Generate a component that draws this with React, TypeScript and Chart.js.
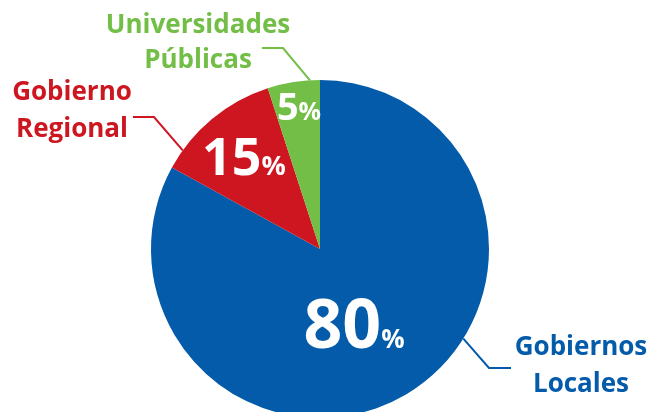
import React, { useEffect, useRef } from "react";
import { Chart, registerables } from "chart.js";

Chart.register(...registerables);

// ---- data ----
const categories = ["Gobiernos Locales", "Gobierno Regional", "Universidades Públicas"];
const shares = [83, 12, 5];
const shareLabels = ["80", "15", "5"];
const nameLines = [
  ["Gobiernos", "Locales"],
  ["Gobierno", "Regional"],
  ["Universidades", "Públicas"],
];
const sliceColors = ["#035BAA", "#CD1620", "#72BE46"];

// ---- annotation layout (relative to pie centre) ----
const calloutLayout = [
  { angle: 122, elbow: [169, 119], end: [191, 119], textX: 261, baselines: [106, 143] },
  { angle: 305.7, elbow: [-166, -132], end: [-187, -132], textX: -248, baselines: [-149, -112] },
  { angle: 356.6, elbow: [-37, -201], end: [-58, -201], textX: -122, baselines: [-216, -181] },
];
const pctLayout = [
  { cx: 34, base: 99, big: 68, small: 26 },
  { cx: -76, base: -74, big: 52, small: 27 },
  { cx: -21, base: -129, big: 38, small: 25 },
];
const FONT = "'Open Sans', sans-serif";

const labelsPlugin = {
  id: "pieLabels",
  afterDatasetsDraw(chart: any) {
    const meta = chart.getDatasetMeta(0);
    const first = meta.data[0];
    if (!first) return;
    const { x, y, outerRadius } = first.getProps(["x", "y", "outerRadius"], true);
    const ctx = chart.ctx;
    ctx.save();
    // percentage labels
    meta.data.forEach((_arc: any, i: number) => {
      const p = pctLayout[i];
      ctx.fillStyle = "#FFFFFF";
      ctx.textBaseline = "alphabetic";
      ctx.textAlign = "left";
      ctx.font = `bold ${p.big}px ${FONT}`;
      const wBig = ctx.measureText(shareLabels[i]).width;
      ctx.font = `bold ${p.small}px ${FONT}`;
      const wSmall = ctx.measureText("%").width;
      const startX = x + p.cx - (wBig + wSmall) / 2;
      ctx.font = `bold ${p.big}px ${FONT}`;
      ctx.fillText(shareLabels[i], startX, y + p.base);
      ctx.font = `bold ${p.small}px ${FONT}`;
      ctx.fillText("%", startX + wBig, y + p.base);
    });
    // callouts
    calloutLayout.forEach((c, i) => {
      const a = (c.angle * Math.PI) / 180;
      const ax = x + Math.sin(a) * outerRadius;
      const ay = y - Math.cos(a) * outerRadius;
      ctx.strokeStyle = sliceColors[i];
      ctx.lineWidth = 2;
      ctx.beginPath();
      ctx.moveTo(ax, ay);
      ctx.lineTo(x + c.elbow[0], y + c.elbow[1]);
      ctx.lineTo(x + c.end[0], y + c.end[1]);
      ctx.stroke();
      ctx.fillStyle = sliceColors[i];
      ctx.font = `bold 26px ${FONT}`;
      ctx.textAlign = "center";
      ctx.textBaseline = "alphabetic";
      nameLines[i].forEach((line, k) => {
        ctx.fillText(line, x + c.textX, y + c.baselines[k]);
      });
    });
    ctx.restore();
  },
};

export default function App() {
  const ref = useRef<HTMLCanvasElement | null>(null);
  useEffect(() => {
    if (!ref.current) return;
    const chart = new Chart(ref.current, {
      type: "pie",
      data: {
        labels: categories,
        datasets: [
          {
            data: shares,
            backgroundColor: sliceColors,
            borderWidth: 0,
          },
        ],
      },
      options: {
        animation: false,
        responsive: true,
        maintainAspectRatio: false,
        radius: 169,
        layout: { padding: { right: 16 } },
        plugins: {
          legend: { display: false },
          tooltip: { enabled: false },
        },
        events: [],
      } as any,
      plugins: [labelsPlugin],
    });
    return () => chart.destroy();
  }, []);
  return (
    <div
      style={{
        position: "fixed",
        left: 0,
        top: 0,
        width: 656,
        height: 412,
        overflow: "hidden",
        background: "#FFFFFF",
      }}
    >
      <div style={{ position: "relative", width: 656, height: 498 }}>
        <canvas ref={ref} />
      </div>
    </div>
  );
}
